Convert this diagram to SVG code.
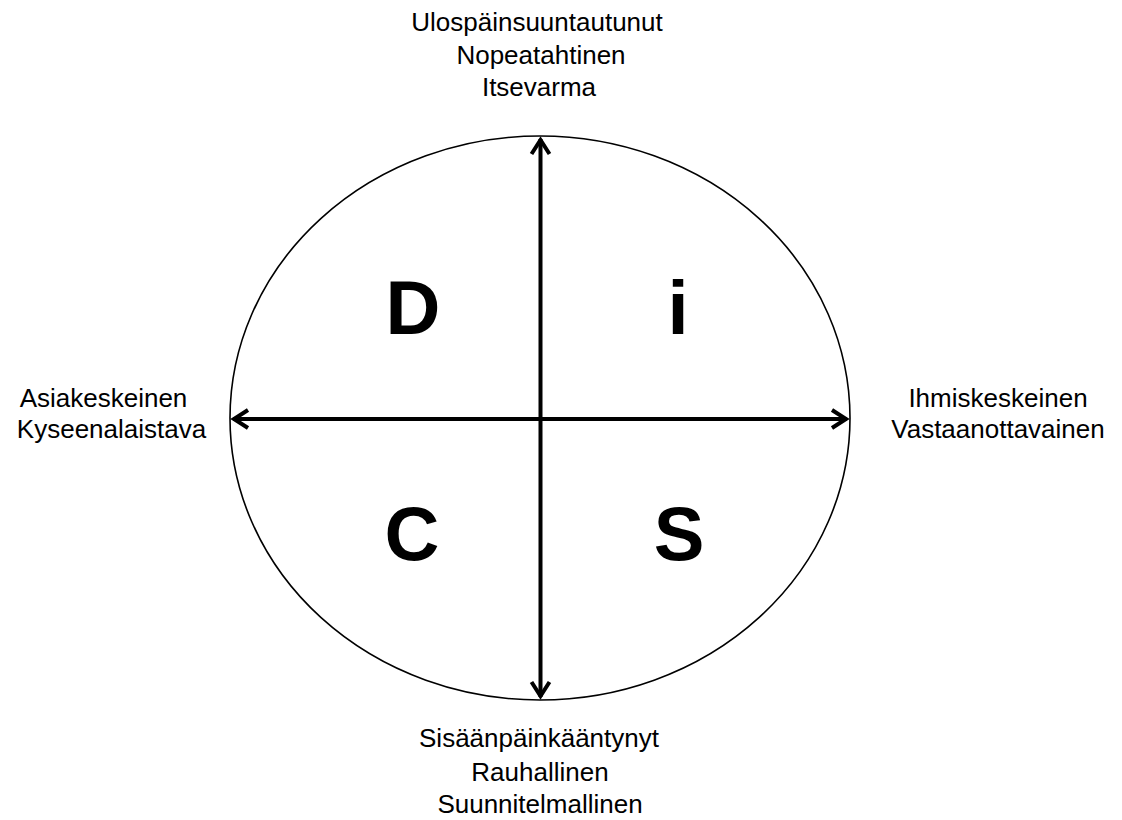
<svg xmlns="http://www.w3.org/2000/svg" width="1122" height="820" viewBox="0 0 1122 820">
<style>
.lbl{font-family:"Liberation Sans",Arial,sans-serif;font-size:26px;fill:#000;text-anchor:middle}
.big{font-family:"Liberation Sans",Arial,sans-serif;font-size:76px;font-weight:bold;fill:#000;text-anchor:middle}
.ax{stroke:#000;stroke-width:4;fill:none}
</style>
<defs>
<marker id="arr" markerUnits="userSpaceOnUse" markerWidth="30" markerHeight="30" viewBox="-20 -15 30 30" refX="0" refY="0" orient="auto-start-reverse">
<path d="M -15 -9 L -1 0 L -15 9" fill="none" stroke="#000" stroke-width="4" stroke-linejoin="miter"/>
</marker>
</defs>
<rect width="1122" height="820" fill="#fff"/>
<g id="circle">
<ellipse cx="540" cy="418" rx="310" ry="282" fill="none" stroke="#000" stroke-width="1.6"/>
</g>
<g id="connectors">
<line class="ax" x1="540.5" y1="139" x2="540.5" y2="697" marker-start="url(#arr)" marker-end="url(#arr)"/>
<line class="ax" x1="233" y1="419" x2="847" y2="419" marker-start="url(#arr)" marker-end="url(#arr)"/>
</g>
<g id="D"><text class="big" x="413" y="334">D</text></g>
<g id="i"><text class="big" x="678" y="334">i</text></g>
<g id="C"><text class="big" x="412" y="560">C</text></g>
<g id="S"><text class="big" x="679" y="560">S</text></g>
<g id="top">
<text class="lbl" x="537" y="31">Ulospäinsuuntautunut</text>
<text class="lbl" x="541" y="64">Nopeatahtinen</text>
<text class="lbl" x="539" y="96">Itsevarma</text>
</g>
<g id="bottom">
<text class="lbl" x="539" y="747">Sisäänpäinkääntynyt</text>
<text class="lbl" x="540" y="781">Rauhallinen</text>
<text class="lbl" x="540" y="813">Suunnitelmallinen</text>
</g>
<g id="left">
<text class="lbl" x="103.5" y="407">Asiakeskeinen</text>
<text class="lbl" x="111.5" y="438">Kyseenalaistava</text>
</g>
<g id="right">
<text class="lbl" x="998" y="407">Ihmiskeskeinen</text>
<text class="lbl" x="998" y="438">Vastaanottavainen</text>
</g>
</svg>
